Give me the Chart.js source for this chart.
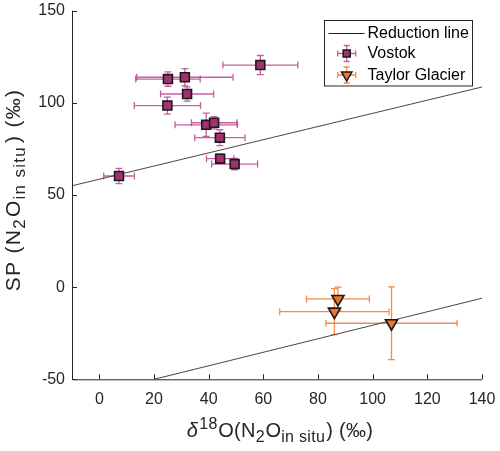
<!DOCTYPE html>
<html>
<head>
<meta charset="utf-8">
<script src="https://cdn.jsdelivr.net/npm/chart.js@4/dist/chart.umd.min.js"></script>
<style>
html,body{margin:0;padding:0;background:#fff;}
#wrap{width:500px;height:451px;position:relative;}
</style>
</head>
<body>
<div id="wrap"><canvas id="c"></canvas></div>
<script>
// ---- data ----
const xTicks = [0, 20, 40, 60, 80, 100, 120, 140];
const yTicks = [-50, 0, 50, 100, 150];
const xRange = [-10, 140];
const yRange = [-50, 150];

const vostokX    = [58.9, 25.1, 31.3, 32.1, 24.9, 39.1, 42.0, 44.1, 44.2, 49.5, 7.2];
const vostokY    = [120.5, 112.9, 113.9, 104.8, 98.5, 88.1, 89.2, 81.1, 69.7, 66.8, 60.3];
const vostokXErr = [13.7, 11.8, 17.6, 9.7, 12.1, 11.4, 8.3, 9.2, 5.0, 8.4, 5.6];
const vostokYErr = [5.2, 3.9, 4.7, 3.9, 4.6, 6.3, 3.3, 4.3, 2.5, 3.1, 4.1];

const taylorX    = [87.3, 86.0, 106.9];
const taylorY    = [-6.4, -13.3, -19.6];
const taylorXErr = [11.5, 20.0, 24.0];
const taylorYErr = [6.4, 12.5, 19.7];

const reductionUpperX = [-10, 140];
const reductionUpperY = [55.0, 108.6];
const reductionLowerX = [20, 140];
const reductionLowerY = [-50.0, -6.0];

const legendLabels = ['Reduction line', 'Vostok', 'Taylor Glacier'];
const xTitleParts = ['\u03B4', '18', 'O(N', '2', 'O', 'in situ', ') (\u2030)'];
const yTitleParts = ['SP (N', '2', 'O', 'in situ', ') (\u2030)'];

// ---- styles ----
const FONT = "'Liberation Sans', Arial, sans-serif";
const AXIS_COLOR = '#262626';
const V_FILL = '#A3306F', V_ERR = 'rgba(185,55,135,0.8)';
const T_FILL = '#EE7430', T_ERR = 'rgba(242,128,60,0.9)';
const LINE_COLOR = '#474747';

function pts(xs, ys) { return xs.map((x, i) => ({x: x, y: ys[i]})); }

const errorBarPlugin = {
  id: 'errbars',
  beforeDatasetsDraw(chart) {
    const ctx = chart.ctx, xs = chart.scales.x, ys = chart.scales.y, a = chart.chartArea;
    ctx.save();
    ctx.beginPath(); ctx.rect(a.left, a.top, a.right - a.left, a.bottom - a.top); ctx.clip();
    chart.data.datasets.forEach((ds, di) => {
      if (!ds.errX) return;
      const meta = chart.getDatasetMeta(di);
      ctx.strokeStyle = ds.errColor; ctx.lineWidth = 1.3;
      const cap = 3.5;
      meta.data.forEach((el, i) => {
        const d = ds.data[i];
        const px = el.x, py = el.y;
        const x1 = xs.getPixelForValue(d.x - ds.errX[i]), x2 = xs.getPixelForValue(d.x + ds.errX[i]);
        const y1 = ys.getPixelForValue(d.y - ds.errY[i]), y2 = ys.getPixelForValue(d.y + ds.errY[i]);
        ctx.beginPath();
        ctx.moveTo(x1, py); ctx.lineTo(x2, py);
        ctx.moveTo(x1, py - cap); ctx.lineTo(x1, py + cap);
        ctx.moveTo(x2, py - cap); ctx.lineTo(x2, py + cap);
        ctx.moveTo(px, y1); ctx.lineTo(px, y2);
        ctx.moveTo(px - cap, y1); ctx.lineTo(px + cap, y1);
        ctx.moveTo(px - cap, y2); ctx.lineTo(px + cap, y2);
        ctx.stroke();
      });
    });
    ctx.restore();
  }
};

function drawRich(ctx, segs, cx, cy, rotate, spacing) {
  ctx.save();
  ctx.translate(cx, cy);
  if (rotate) ctx.rotate(-Math.PI / 2);
  ctx.fillStyle = AXIS_COLOR;
  ctx.textAlign = 'left'; ctx.textBaseline = 'alphabetic';
  if ('letterSpacing' in ctx) ctx.letterSpacing = (spacing || 0) + 'px';
  let total = 0;
  segs.forEach(s => { ctx.font = (s.italic ? 'italic ' : '') + s.size + 'px ' + FONT; s.w = ctx.measureText(s.t).width; total += s.w + (s.gap || 0); });
  let x = -total / 2;
  segs.forEach(s => { ctx.font = (s.italic ? 'italic ' : '') + s.size + 'px ' + FONT; ctx.fillText(s.t, x, s.dy || 0); x += s.w + (s.gap || 0); });
  ctx.restore();
}

function drawErrIcon(ctx, x, y, color) {
  ctx.strokeStyle = color; ctx.lineWidth = 1.3;
  ctx.beginPath();
  ctx.moveTo(x - 9, y); ctx.lineTo(x + 9, y);
  ctx.moveTo(x - 9, y - 3); ctx.lineTo(x - 9, y + 3);
  ctx.moveTo(x + 9, y - 3); ctx.lineTo(x + 9, y + 3);
  ctx.moveTo(x, y - 8); ctx.lineTo(x, y + 8);
  ctx.moveTo(x - 3, y - 8); ctx.lineTo(x + 3, y - 8);
  ctx.moveTo(x - 3, y + 8); ctx.lineTo(x + 3, y + 8);
  ctx.stroke();
}

const decorPlugin = {
  id: 'decor',
  afterDraw(chart) {
    const ctx = chart.ctx, a = chart.chartArea, xs = chart.scales.x, ys = chart.scales.y;
    ctx.save();
    // axis lines and inward ticks
    ctx.strokeStyle = AXIS_COLOR; ctx.lineWidth = 1;
    ctx.beginPath();
    ctx.moveTo(a.left + 0.5, a.top); ctx.lineTo(a.left + 0.5, a.bottom + 0.5); ctx.lineTo(a.right, a.bottom + 0.5);
    xTicks.forEach(v => { const p = Math.round(xs.getPixelForValue(v)) + 0.5; ctx.moveTo(p, a.bottom); ctx.lineTo(p, a.bottom - 5); });
    yTicks.forEach(v => { const p = Math.round(ys.getPixelForValue(v)) + 0.5; ctx.moveTo(a.left, p); ctx.lineTo(a.left + 5, p); });
    ctx.stroke();

    // axis titles
    drawRich(ctx, [
      {t: xTitleParts[0], size: 20, italic: true, gap: 1},
      {t: xTitleParts[1], size: 16, dy: -8, gap: 0.5},
      {t: xTitleParts[2], size: 20},
      {t: xTitleParts[3], size: 16, dy: 5, gap: 0.5},
      {t: xTitleParts[4], size: 20},
      {t: xTitleParts[5], size: 16, dy: 5, gap: 1},
      {t: xTitleParts[6], size: 20}
    ], 280, 436.5, false, 0.3);
    drawRich(ctx, [
      {t: yTitleParts[0], size: 21},
      {t: yTitleParts[1], size: 17, dy: 5, gap: 1},
      {t: yTitleParts[2], size: 21},
      {t: yTitleParts[3], size: 17, dy: 5, gap: 3},
      {t: yTitleParts[4], size: 21}
    ], 19.5, 190, true, 1.3);

    // legend
    const L = 324.5, T = 20.5, R = 472.5, B = 86;
    ctx.fillStyle = '#fff'; ctx.fillRect(L, T, R - L, B - T);
    ctx.strokeStyle = AXIS_COLOR; ctx.lineWidth = 1;
    ctx.strokeRect(L, T, R - L, B - T);
    const rows = [33, 53.5, 75];
    ctx.strokeStyle = '#222'; ctx.lineWidth = 1;
    ctx.beginPath(); ctx.moveTo(328.5, rows[0] + 0.5); ctx.lineTo(364.5, rows[0] + 0.5); ctx.stroke();
    drawErrIcon(ctx, 346.7, rows[1], V_ERR);
    drawErrIcon(ctx, 346.7, rows[2], T_ERR);
    ctx.lineWidth = 1.5; ctx.strokeStyle = '#1a1a1a';
    ctx.fillStyle = V_FILL;
    Chart.helpers.drawPoint(ctx, {pointStyle: 'rect', radius: 5, rotation: 0, borderWidth: 1.5}, 346.7, rows[1]);
    ctx.fillStyle = T_FILL;
    Chart.helpers.drawPoint(ctx, {pointStyle: 'triangle', radius: 6, rotation: 180, borderWidth: 1.5}, 346.7, rows[2]);
    ctx.fillStyle = '#000';
    ctx.font = '16px ' + FONT; ctx.textAlign = 'left'; ctx.textBaseline = 'middle';
    legendLabels.forEach((t, i) => ctx.fillText(t, 367.5, rows[i] + 0.5));
    ctx.restore();
  }
};

const chart = new Chart(document.getElementById('c'), {
  data: {
    datasets: [
      {type: 'scatter', label: legendLabels[1], data: pts(vostokX, vostokY), errX: vostokXErr, errY: vostokYErr, errColor: V_ERR,
       pointStyle: 'rect', pointRadius: 6.3, pointHoverRadius: 6.3, backgroundColor: V_FILL, borderColor: '#1a1a1a', borderWidth: 1.6},
      {type: 'scatter', label: legendLabels[2], data: pts(taylorX, taylorY), errX: taylorXErr, errY: taylorYErr, errColor: T_ERR,
       pointStyle: 'triangle', rotation: 180, pointRadius: 7, pointHoverRadius: 7, backgroundColor: T_FILL, borderColor: '#1a1a1a', borderWidth: 1.6},
      {type: 'line', label: legendLabels[0], data: pts(reductionUpperX, reductionUpperY), borderColor: LINE_COLOR, borderWidth: 1, pointRadius: 0, fill: false},
      {type: 'line', label: legendLabels[0] + ' (2)', data: pts(reductionLowerX, reductionLowerY), borderColor: LINE_COLOR, borderWidth: 1, pointRadius: 0, fill: false}
    ]
  },
  options: {
    responsive: true,
    maintainAspectRatio: false,
    animation: false,
    events: [],
    layout: {padding: {left: 0, right: 18, top: 10.7, bottom: 0}},
    plugins: {legend: {display: false}, tooltip: {enabled: false}},
    scales: {
      x: {
        type: 'linear', min: xRange[0], max: xRange[1],
        afterBuildTicks: s => { s.ticks = xTicks.map(v => ({value: v})); },
        afterFit: s => { s.height = 71.7; s.paddingLeft = 0; s.paddingRight = 0; },
        grid: {display: false, drawTicks: false},
        border: {display: false},
        ticks: {font: {family: FONT, size: 16}, color: AXIS_COLOR, padding: 11, maxRotation: 0, autoSkip: false}
      },
      y: {
        type: 'linear', min: yRange[0], max: yRange[1],
        afterBuildTicks: s => { s.ticks = yTicks.map(v => ({value: v})); },
        afterFit: s => { s.width = 72; s.paddingTop = 0; s.paddingBottom = 0; },
        grid: {display: false, drawTicks: false},
        border: {display: false},
        ticks: {font: {family: FONT, size: 16}, color: AXIS_COLOR, padding: 7, autoSkip: false}
      }
    }
  },
  plugins: [errorBarPlugin, decorPlugin]
});
</script>
</body>
</html>
